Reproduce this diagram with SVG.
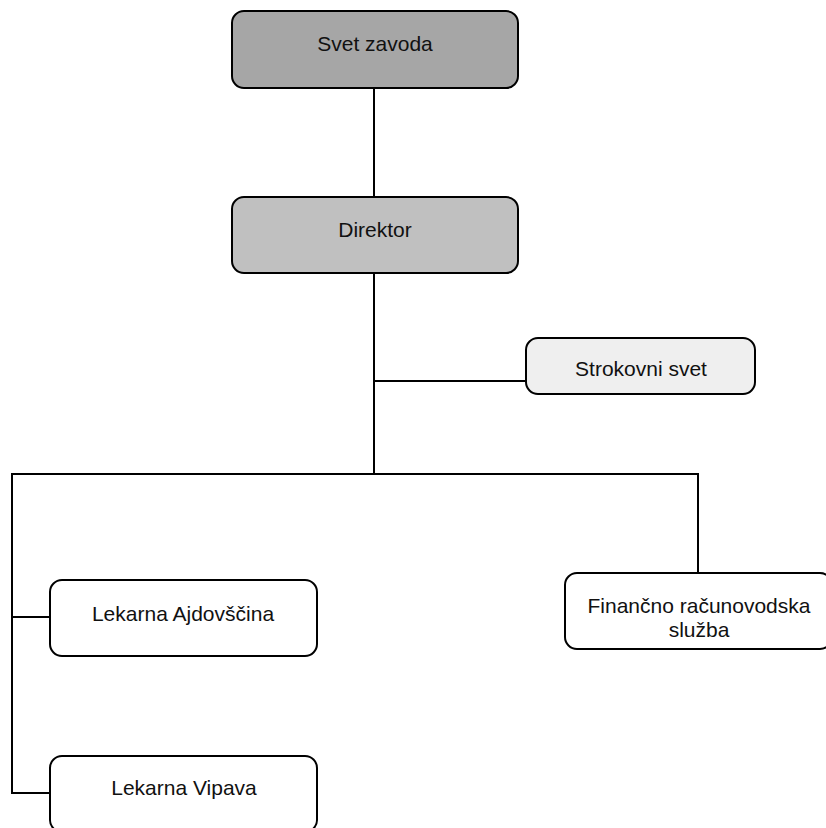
<svg xmlns="http://www.w3.org/2000/svg" width="826" height="828" viewBox="0 0 826 828">
<style>
.box{stroke:#000;stroke-width:2}
.t{font-family:"Liberation Sans",Arial,sans-serif;font-size:21px;fill:#111;text-anchor:middle}
.c{stroke:#000;stroke-width:2;fill:none}
</style>
<rect width="826" height="828" fill="#fff"/>
<g id="connectors">
<line class="c" x1="374" y1="88" x2="374" y2="197"/>
<line class="c" x1="374" y1="273" x2="374" y2="474"/>
<line class="c" x1="374" y1="381" x2="526" y2="381"/>
<polyline class="c" points="698,573 698,474 12,474 12,793 50,793"/>
<line class="c" x1="12" y1="617" x2="50" y2="617"/>
</g>
<g id="svet-zavoda">
<rect class="box" x="232" y="11" width="286" height="77" rx="12" fill="#a6a6a6"/>
<text class="t" x="375" y="51">Svet zavoda</text>
</g>
<g id="direktor">
<rect class="box" x="232" y="197" width="286" height="76" rx="12" fill="#c0c0c0"/>
<text class="t" x="375" y="237">Direktor</text>
</g>
<g id="strokovni-svet">
<rect class="box" x="526" y="338" width="229" height="56" rx="12" fill="#efefef"/>
<text class="t" x="641" y="376">Strokovni svet</text>
</g>
<g id="lekarna-ajdovscina">
<rect class="box" x="50" y="580" width="267" height="76" rx="12" fill="#fff"/>
<text class="t" x="183" y="621">Lekarna Ajdovščina</text>
</g>
<g id="financno">
<rect class="box" x="565" y="573" width="267" height="76" rx="12" fill="#fff"/>
<text class="t" x="699" y="613">Finančno računovodska</text>
<text class="t" x="699" y="637">služba</text>
</g>
<g id="lekarna-vipava">
<rect class="box" x="50" y="756" width="267" height="76" rx="12" fill="#fff"/>
<text class="t" x="184" y="795">Lekarna Vipava</text>
</g>
</svg>
